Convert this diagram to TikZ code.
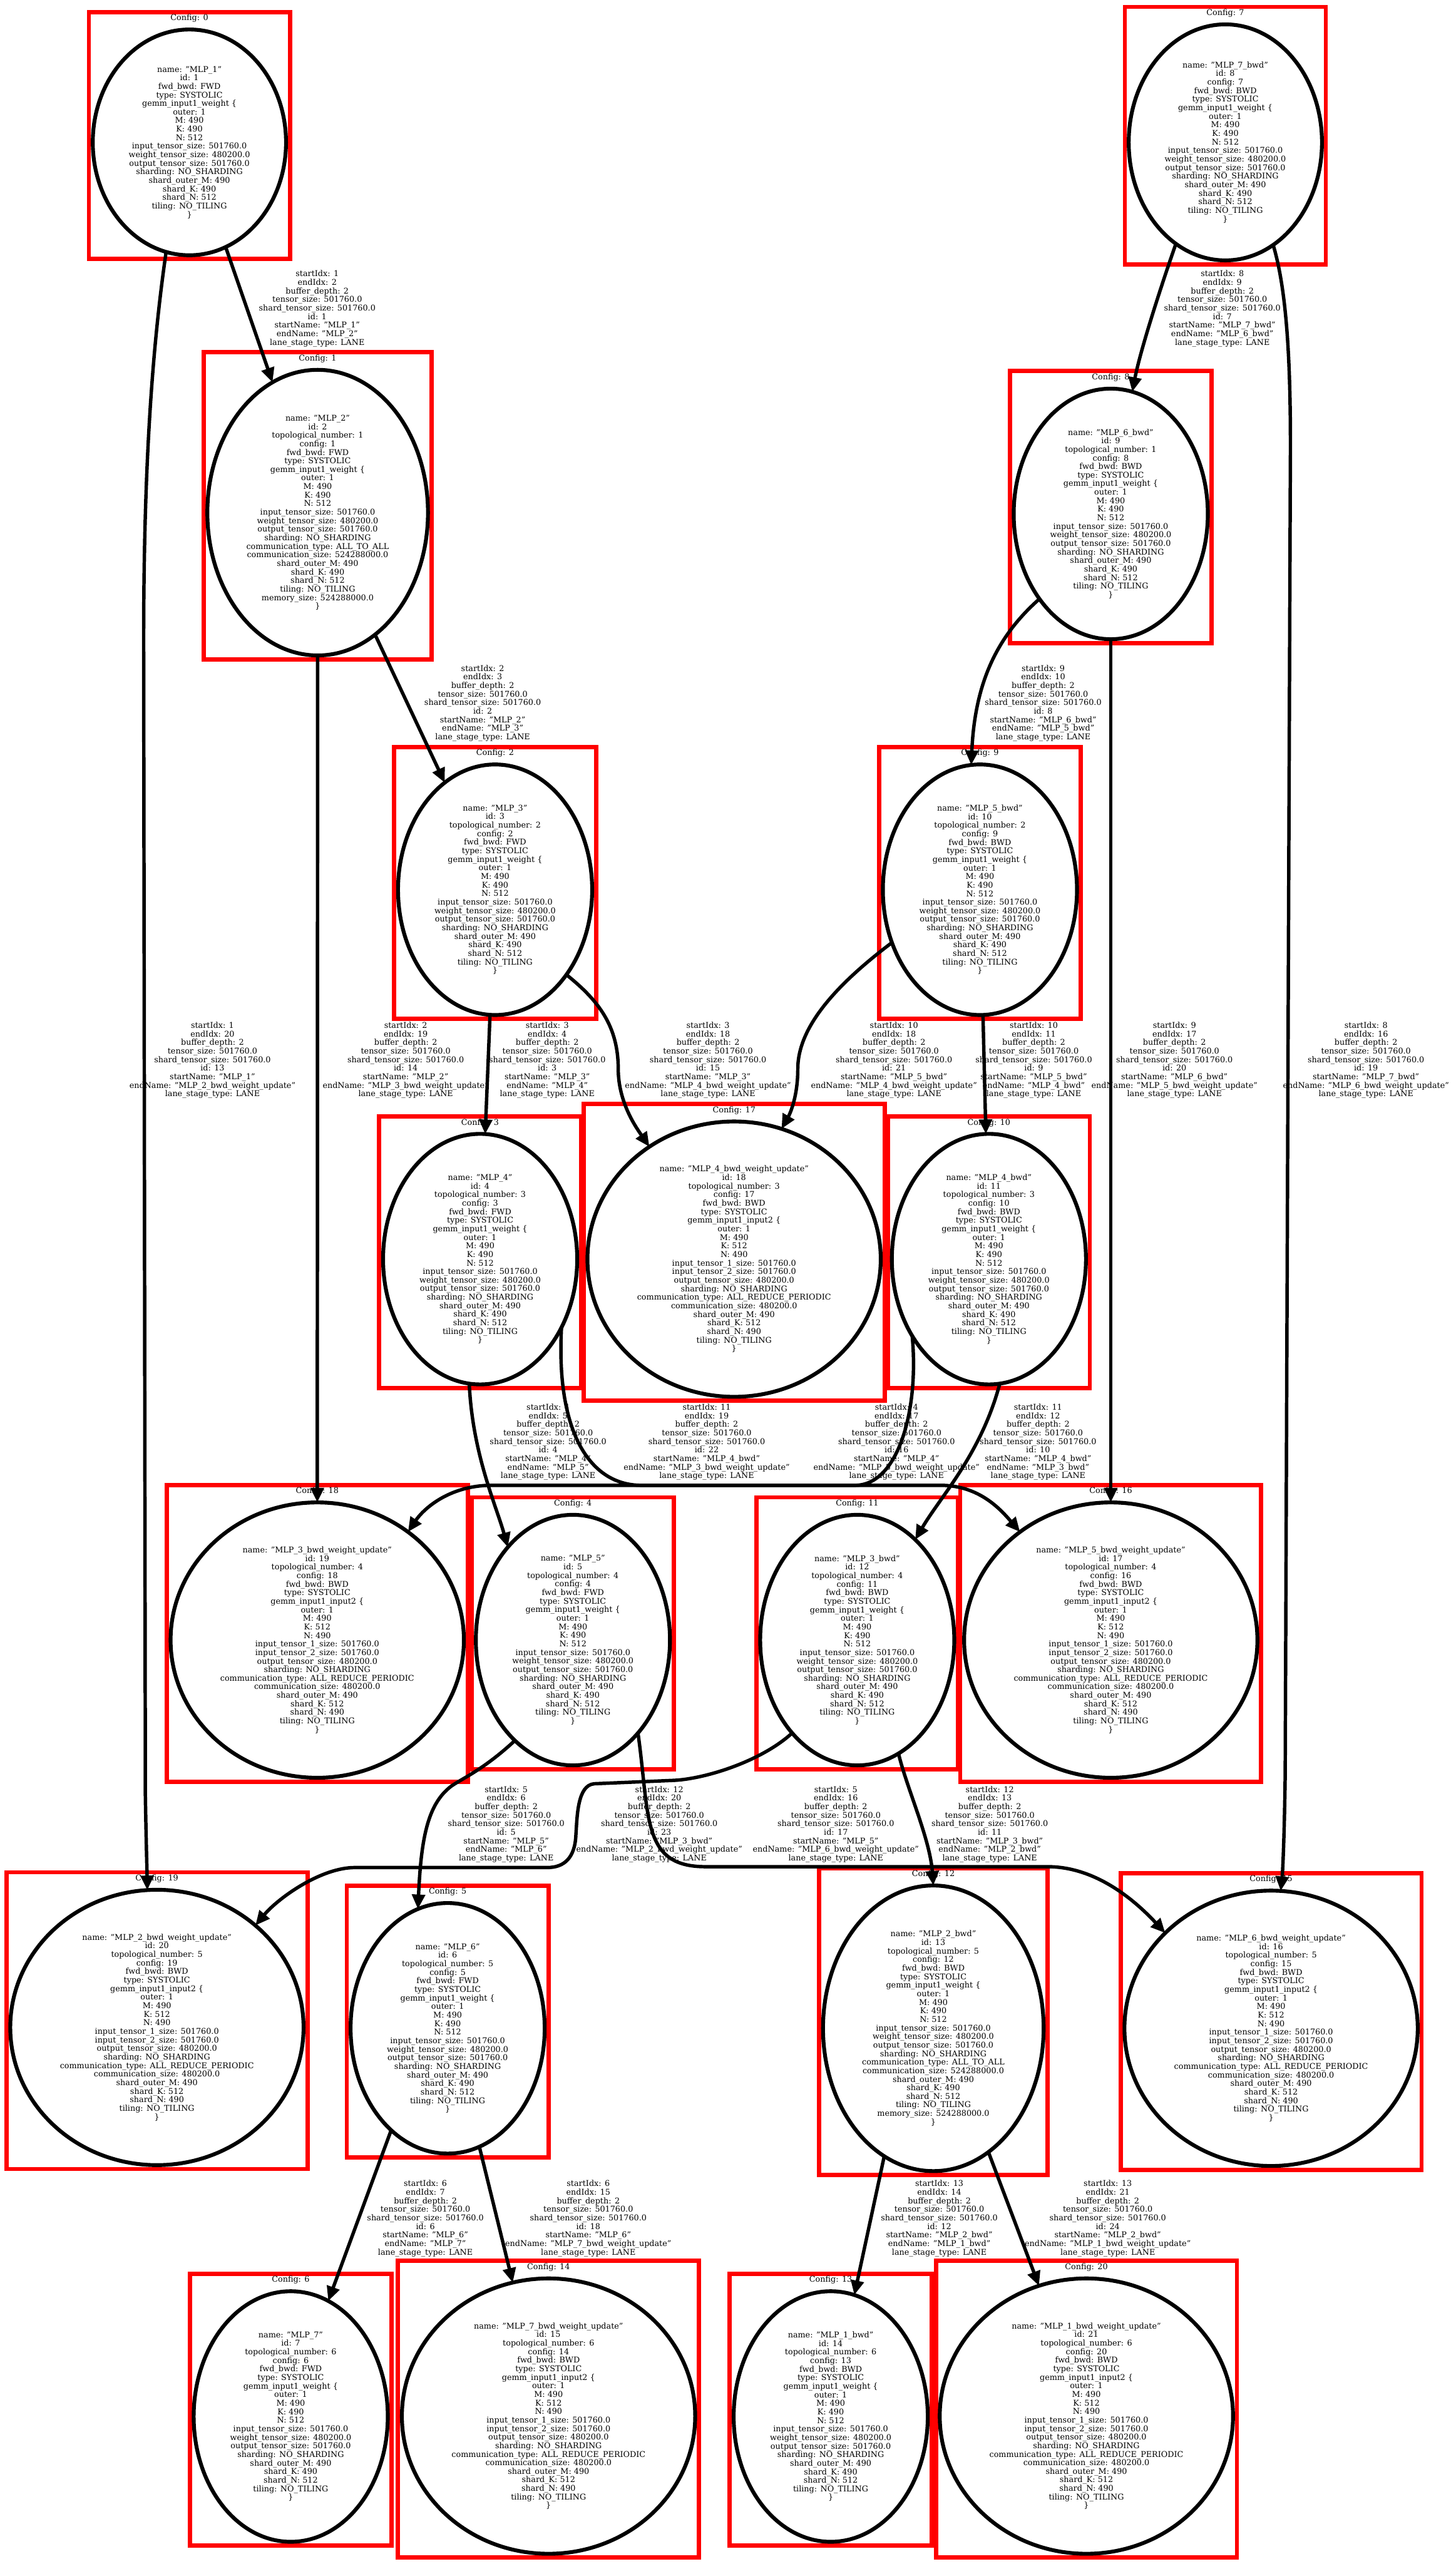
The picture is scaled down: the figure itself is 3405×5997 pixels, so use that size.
\documentclass[tikz,border=0pt]{standalone}
\usepackage{fontspec}
\setmainfont{DejaVu Serif}
\usetikzlibrary{shapes.geometric,arrows.meta}
\newcommand{\nfont}{\fontsize{18.7pt}{20pt}\selectfont}
\newcommand{\gwcore}{type: SYSTOLIC\\gemm\_input1\_weight \{\\outer: 1\\M: 490\\K: 490\\N: 512\\input\_tensor\_size: 501760.0\\weight\_tensor\_size: 480200.0\\output\_tensor\_size: 501760.0\\sharding: NO\_SHARDING}
\newcommand{\gwplain}{shard\_outer\_M: 490\\shard\_K: 490\\shard\_N: 512\\tiling: NO\_TILING\\\}}
\newcommand{\gwcomm}{communication\_type: ALL\_TO\_ALL\\communication\_size: 524288000.0\\shard\_outer\_M: 490\\shard\_K: 490\\shard\_N: 512\\tiling: NO\_TILING\\memory\_size: 524288000.0\\\}}
\newcommand{\gtext}[5]{name: "#1"\\id: #2\\topological\_number: #3\\config: #4\\fwd\_bwd: #5\\\gwcore\\\gwplain}
\newcommand{\ctext}[5]{name: "#1"\\id: #2\\topological\_number: #3\\config: #4\\fwd\_bwd: #5\\\gwcore\\\gwcomm}
\newcommand{\wtext}[4]{name: "#1"\\id: #2\\topological\_number: #3\\config: #4\\fwd\_bwd: BWD\\type: SYSTOLIC\\gemm\_input1\_input2 \{\\outer: 1\\M: 490\\K: 512\\N: 490\\input\_tensor\_1\_size: 501760.0\\input\_tensor\_2\_size: 501760.0\\output\_tensor\_size: 480200.0\\sharding: NO\_SHARDING\\communication\_type: ALL\_REDUCE\_PERIODIC\\communication\_size: 480200.0\\shard\_outer\_M: 490\\shard\_K: 512\\shard\_N: 490\\tiling: NO\_TILING\\\}}
\newcommand{\etext}[5]{startIdx: #1\\endIdx: #2\\buffer\_depth: 2\\tensor\_size: 501760.0\\shard\_tensor\_size: 501760.0\\id: #3\\startName: "#4"\\endName: "#5"\\lane\_stage\_type: LANE}
\newcommand{\mkcluster}[5]{%
  \draw[clusterbox] ({#1-#3-9},{#2-#4-41}) rectangle ({#1+#3+9},{#2+#4+9});
  \node[clab] (cfg#5) at (#1,{#2-#4-26}) {Config: #5};}
\tikzset{
  ell/.style={ellipse, draw, line width=9pt, inner sep=0pt, outer sep=0pt, align=center, font=\nfont},
  Ga/.style={ell, minimum width=452pt, minimum height=528pt},
  Gb/.style={ell, minimum width=452pt, minimum height=552pt},
  Gc/.style={ell, minimum width=454pt, minimum height=586pt},
  Cm/.style={ell, minimum width=516pt, minimum height=668pt},
  Wu/.style={ell, minimum width=686pt, minimum height=644pt},
  clusterbox/.style={draw=red, line width=10pt},
  clab/.style={font=\nfont, inner sep=0pt},
  elab/.style={font=\nfont, align=center, inner sep=0pt},
  edge/.style={line width=8pt, -{Triangle[length=34pt,width=30pt]}},
}
\begin{document}
\begin{tikzpicture}[x=1pt,y=-1pt]
\fill[white] (0,0) rectangle (3405,5997);
\useasboundingbox (0,0) rectangle (3405,5997);
% clusters
\mkcluster{443}{333}{226}{264}{0}
\mkcluster{2866}{333}{226}{276}{7}
\mkcluster{743}{1199}{258}{334}{1}
\mkcluster{2598}{1202}{227}{293}{8}
\mkcluster{1158}{2081}{227}{293}{2}
\mkcluster{2292}{2081}{227}{293}{9}
\mkcluster{1123}{2945}{227}{293}{3}
\mkcluster{1717}{2945}{343}{322}{17}
\mkcluster{2313}{2945}{227}{293}{10}
\mkcluster{742}{3836}{343}{322}{18}
\mkcluster{1340}{3836}{227}{293}{4}
\mkcluster{2005}{3836}{227}{293}{11}
\mkcluster{2598}{3836}{343}{322}{16}
\mkcluster{367}{4742}{343}{322}{19}
\mkcluster{1047}{4744}{227}{293}{5}
\mkcluster{2183}{4744}{258}{334}{12}
\mkcluster{2973}{4744}{343}{322}{15}
\mkcluster{680}{5652}{227}{293}{6}
\mkcluster{1283}{5651}{343}{322}{14}
\mkcluster{1943}{5652}{227}{293}{13}
\mkcluster{2541}{5651}{343}{322}{20}
% nodes
\node[Ga] (n1) at (443,333) {name: "MLP\_1"\\id: 1\\fwd\_bwd: FWD\\\gwcore\\\gwplain};
\node[Gb] (n8) at (2866,333) {name: "MLP\_7\_bwd"\\id: 8\\config: 7\\fwd\_bwd: BWD\\\gwcore\\\gwplain};
\node[Cm] (n2) at (743,1199) {\ctext{MLP\_2}{2}{1}{1}{FWD}};
\node[Gc] (n9) at (2598,1202) {\gtext{MLP\_6\_bwd}{9}{1}{8}{BWD}};
\node[Gc] (n3) at (1158,2081) {\gtext{MLP\_3}{3}{2}{2}{FWD}};
\node[Gc] (n10) at (2292,2081) {\gtext{MLP\_5\_bwd}{10}{2}{9}{BWD}};
\node[Gc] (n4) at (1123,2945) {\gtext{MLP\_4}{4}{3}{3}{FWD}};
\node[Wu] (n18) at (1717,2945) {\wtext{MLP\_4\_bwd\_weight\_update}{18}{3}{17}};
\node[Gc] (n11) at (2313,2945) {\gtext{MLP\_4\_bwd}{11}{3}{10}{BWD}};
\node[Wu] (n19) at (742,3836) {\wtext{MLP\_3\_bwd\_weight\_update}{19}{4}{18}};
\node[Gc] (n5) at (1340,3836) {\gtext{MLP\_5}{5}{4}{4}{FWD}};
\node[Gc] (n12) at (2005,3836) {\gtext{MLP\_3\_bwd}{12}{4}{11}{BWD}};
\node[Wu] (n17) at (2598,3836) {\wtext{MLP\_5\_bwd\_weight\_update}{17}{4}{16}};
\node[Wu] (n20) at (367,4742) {\wtext{MLP\_2\_bwd\_weight\_update}{20}{5}{19}};
\node[Gc] (n6) at (1047,4744) {\gtext{MLP\_6}{6}{5}{5}{FWD}};
\node[Cm] (n13) at (2183,4744) {\ctext{MLP\_2\_bwd}{13}{5}{12}{BWD}};
\node[Wu] (n16) at (2973,4744) {\wtext{MLP\_6\_bwd\_weight\_update}{16}{5}{15}};
\node[Gc] (n7) at (680,5652) {\gtext{MLP\_7}{7}{6}{6}{FWD}};
\node[Wu] (n15) at (1283,5651) {\wtext{MLP\_7\_bwd\_weight\_update}{15}{6}{14}};
\node[Gc] (n14) at (1943,5652) {\gtext{MLP\_1\_bwd}{14}{6}{13}{BWD}};
\node[Wu] (n21) at (2541,5651) {\wtext{MLP\_1\_bwd\_weight\_update}{21}{6}{20}};
% edge labels
\node[elab] (L1) at (742,722) {\etext{1}{2}{1}{MLP\_1}{MLP\_2}};
\node[elab] (L7) at (2859,722) {\etext{8}{9}{7}{MLP\_7\_bwd}{MLP\_6\_bwd}};
\node[elab] (L2) at (1129,1645) {\etext{2}{3}{2}{MLP\_2}{MLP\_3}};
\node[elab] (L8) at (2440,1645) {\etext{9}{10}{8}{MLP\_6\_bwd}{MLP\_5\_bwd}};
\node[elab] (L13) at (497,2480) {\etext{1}{20}{13}{MLP\_1}{MLP\_2\_bwd\_weight\_update}};
\node[elab] (L14) at (949,2480) {\etext{2}{19}{14}{MLP\_2}{MLP\_3\_bwd\_weight\_update}};
\node[elab] (L3) at (1280,2480) {\etext{3}{4}{3}{MLP\_3}{MLP\_4}};
\node[elab] (L15) at (1656,2480) {\etext{3}{18}{15}{MLP\_3}{MLP\_4\_bwd\_weight\_update}};
\node[elab] (L21) at (2091,2480) {\etext{10}{18}{21}{MLP\_5\_bwd}{MLP\_4\_bwd\_weight\_update}};
\node[elab] (L9) at (2418,2480) {\etext{10}{11}{9}{MLP\_5\_bwd}{MLP\_4\_bwd}};
\node[elab] (L20) at (2747,2480) {\etext{9}{17}{20}{MLP\_6\_bwd}{MLP\_5\_bwd\_weight\_update}};
\node[elab] (L19) at (3195,2480) {\etext{8}{16}{19}{MLP\_7\_bwd}{MLP\_6\_bwd\_weight\_update}};
\node[elab] (L4) at (1282,3373) {\etext{4}{5}{4}{MLP\_4}{MLP\_5}};
\node[elab] (L22) at (1653,3373) {\etext{11}{19}{22}{MLP\_4\_bwd}{MLP\_3\_bwd\_weight\_update}};
\node[elab] (L16) at (2097,3373) {\etext{4}{17}{16}{MLP\_4}{MLP\_5\_bwd\_weight\_update}};
\node[elab] (L10) at (2428,3373) {\etext{11}{12}{10}{MLP\_4\_bwd}{MLP\_3\_bwd}};
\node[elab] (L5) at (1184,4267) {\etext{5}{6}{5}{MLP\_5}{MLP\_6}};
\node[elab] (L23) at (1542,4267) {\etext{12}{20}{23}{MLP\_3\_bwd}{MLP\_2\_bwd\_weight\_update}};
\node[elab] (L17) at (1955,4267) {\etext{5}{16}{17}{MLP\_5}{MLP\_6\_bwd\_weight\_update}};
\node[elab] (L11) at (2315,4267) {\etext{12}{13}{11}{MLP\_3\_bwd}{MLP\_2\_bwd}};
\node[elab] (L6) at (995,5189) {\etext{6}{7}{6}{MLP\_6}{MLP\_7}};
\node[elab] (L18) at (1376,5189) {\etext{6}{15}{18}{MLP\_6}{MLP\_7\_bwd\_weight\_update}};
\node[elab] (L12) at (2197,5189) {\etext{13}{14}{12}{MLP\_2\_bwd}{MLP\_1\_bwd}};
\node[elab] (L24) at (2591,5189) {\etext{13}{21}{24}{MLP\_2\_bwd}{MLP\_1\_bwd\_weight\_update}};
% edges
\draw[edge] (n1) -- (n2);
\draw[edge] (n1.-102) .. controls (355,820) and (336,1100) .. (336,1500) -- (340,4200) .. controls (342,4320) and (344,4380) .. (n20.94);
\draw[edge] (n2) -- (n3);
\draw[edge] (n2) -- (n19);
\draw[edge] (n8.-116) .. controls (2705,700) and (2665,830) .. (n9.80);
\draw[edge] (n8.-65) .. controls (3010,680) and (3020,850) .. (3018,1100) -- (3006,4150) .. controls (3004,4300) and (3000,4380) .. (n16.86);
\draw[edge] (n9.-130) .. controls (2330,1490) and (2280,1600) .. (n10.94);
\draw[edge] (n9) -- (n17);
\draw[edge] (n3) -- (n4);
\draw[edge] (n3.-50) .. controls (1400,2340) and (1446,2400) .. (1446,2500) .. controls (1446,2580) and (1490,2640) .. (n18.127);
\draw[edge] (n10.-149) .. controls (1960,2300) and (1866,2400) .. (1866,2500) .. controls (1866,2570) and (1845,2610) .. (n18.70);
\draw[edge] (n10) -- (n11);
\draw[edge] (n4.-95) .. controls (1105,3400) and (1160,3520) .. (n5.125);
\draw[edge] (n4.-40) .. controls (1300,3350) and (1380,3474) .. (1500,3474) -- (2200,3474) .. controls (2290,3474) and (2340,3530) .. (n17.130);
\draw[edge] (n11.-135) .. controls (2150,3300) and (2100,3474) .. (2000,3474) -- (1150,3474) .. controls (1050,3474) and (990,3530) .. (n19.50);
\draw[edge] (n11.-85) .. controls (2295,3400) and (2200,3500) .. (n12.60);
\draw[edge] (n5.-120) .. controls (1130,4140) and (1080,4160) .. (1055,4178) .. controls (1000,4220) and (985,4300) .. (n6.104);
\draw[edge] (n12.-125) .. controls (1780,4120) and (1650,4160) .. (1578,4164) -- (1390,4172) .. controls (1350,4175) and (1350,4250) .. (1347,4291) .. controls (1345,4345) and (1320,4368) .. (1280,4368) -- (830,4368) .. controls (750,4368) and (650,4440) .. (n20.46);
\draw[edge] (n5.-55) .. controls (1520,4250) and (1500,4366) .. (1650,4366) -- (2450,4366) .. controls (2560,4366) and (2650,4440) .. (n16.138);
\draw[edge] (n12.-70) .. controls (2120,4180) and (2175,4300) .. (n13.north);
\draw[edge] (n6.-119) -- (n7.72);
\draw[edge] (n6.-75) -- (n15.105);
\draw[edge] (n13.-111) -- (n14.79);
\draw[edge] (n13.-66) -- (n21.110);
\end{tikzpicture}
\end{document}
